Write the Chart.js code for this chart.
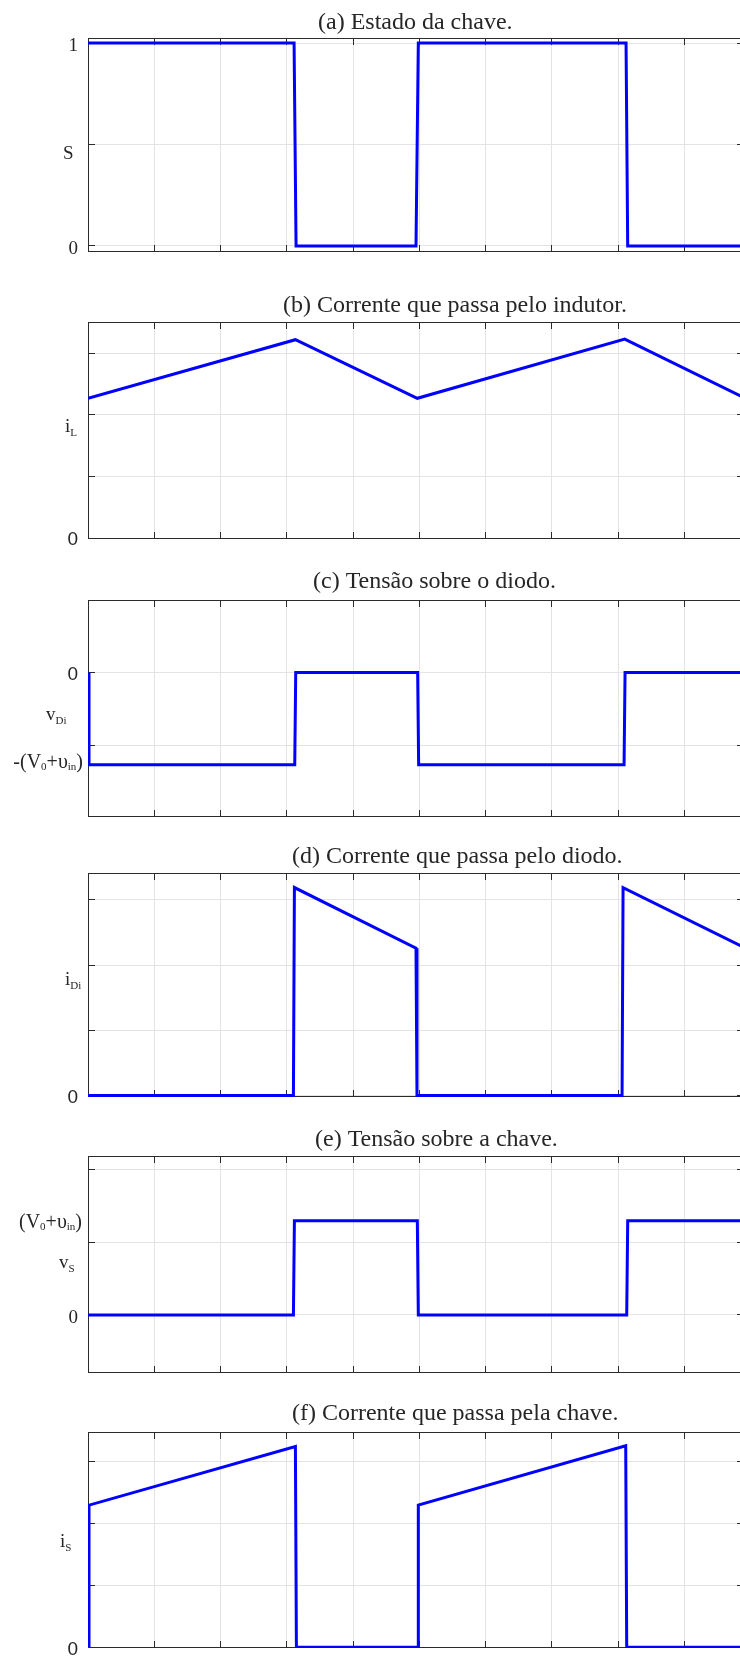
<!DOCTYPE html>
<html>
<head>
<meta charset="utf-8">
<script src="https://cdn.jsdelivr.net/npm/chart.js@4.4.1/dist/chart.umd.min.js"></script>
<style>
  html, body { margin: 0; padding: 0; background: #fff; overflow: hidden; }
  #figure { position: relative; width: 740px; height: 1657px; overflow: hidden; background: #fff; }
  #figure canvas { position: absolute; left: 0; }
</style>
</head>
<body>
<div id="figure"></div>
<script>
// x is measured in grid divisions (one per vertical grid line)
const xTicks = [0, 1, 2, 3, 4, 5, 6, 7, 8, 9];

// (a) switch state
const sX = [0, 3.11, 3.14, 4.95, 4.985, 8.12, 8.145, 9.9];
const sY = [1, 1, 0, 0, 1, 1, 0, 0];
const sTicks = [0, 0.5, 1];
const sTickLabels = ['0', '', '1'];

// (b) inductor current
const iLX = [0, 3.13, 4.97, 8.1, 9.9];
const iLY = [2.27, 3.22, 2.27, 3.23, 2.28];
const iLTicks = [0, 1, 2, 3];
const iLTickLabels = ['0', '', '', ''];

// (c) diode voltage
const vDiX = [0.015, 0.015, 3.12, 3.135, 4.975, 4.99, 8.09, 8.105, 9.9];
const vDiY = [0, -1.27, -1.27, 0, 0, -1.27, -1.27, 0, 0];
const vDiTicks = [-1, 0];
const vDiTickLabels = ['', '0'];

// (d) diode current
const iDiX = [0, 3.1, 3.115, 4.95, 4.965, 8.06, 8.075, 9.9];
const iDiY = [0, 0, 3.19, 2.26, 0, 0, 3.19, 2.27];
const iDiTicks = [0, 1, 2, 3];
const iDiTickLabels = ['0', '', '', ''];

// (e) switch voltage
const vSX = [0, 3.1, 3.115, 4.97, 4.985, 8.13, 8.145, 9.9];
const vSY = [0, 0, 1.3, 1.3, 0, 0, 1.3, 1.3];
const vSTicks = [0, 1, 2];
const vSTickLabels = ['0', '', ''];

// (f) switch current
const iSX = [0.015, 0.015, 3.13, 3.145, 4.985, 4.985, 8.115, 8.13, 9.9];
const iSY = [0, 2.3, 3.25, 0, 0, 2.3, 3.26, 0, 0];
const iSTicks = [0, 1, 2, 3];
const iSTickLabels = ['0', '', '', ''];

const SERIF = '"Liberation Serif", "Times New Roman", serif';
const SANS = '"Liberation Sans", Arial, sans-serif';
const TEXT_COLOR = '#262626';
const AXIS_COLOR = '#2b2b2b';
const GRID_COLOR = '#e3e3e3';
const LINE_COLOR = '#0000ff';
const PAD_TOP = 40, PAD_BOTTOM = 24;
const CANVAS_W = 746, PLOT_LEFT = 88, PLOT_RIGHT = 744, TICK_LEN = 7;

// page coordinates of each panel (plot box, title, labels)
const panels = [
    { title: '(a) Estado da chave.', titleX: 318, titleY: 28.5, top: 38, bottom: 252,
      yMin: -0.03, yMax: 1.025, xs: sX, ys: sY, ticks: sTicks, labels: sTickLabels, font: SERIF, offset: 3,
      yLabel: 'S', yLabelX: 63, yLabelY: 159 },
    { title: '(b) Corrente que passa pelo indutor.', titleX: 283, titleY: 311.5, top: 322, bottom: 539,
      yMin: -0.012, yMax: 3.507, xs: iLX, ys: iLY, ticks: iLTicks, labels: iLTickLabels, font: SANS, offset: 2,
      yLabel: 'i_{L}', yLabelX: 65, yLabelY: 432 },
    { title: '(c) Tensão sobre o diodo.', titleX: 313, titleY: 587.5, top: 600, bottom: 817,
      yMin: -1.99, yMax: 1.0, xs: vDiX, ys: vDiY, ticks: vDiTicks, labels: vDiTickLabels, font: SANS, offset: 2,
      yLabel: 'v_{Di}', yLabelX: 46, yLabelY: 720,
      valueLabel: '-(V_{0}+υ_{in})', valueLabelX: 83, valueLabelY: 768 },
    { title: '(d) Corrente que passa pelo diodo.', titleX: 292, titleY: 863, top: 873, bottom: 1097,
      yMin: -0.023, yMax: 3.413, xs: iDiX, ys: iDiY, ticks: iDiTicks, labels: iDiTickLabels, font: SANS, offset: 2,
      yLabel: 'i_{Di}', yLabelX: 65, yLabelY: 985 },
    { title: '(e) Tensão sobre a chave.', titleX: 315, titleY: 1145.5, top: 1156, bottom: 1373,
      yMin: -0.8, yMax: 2.193, xs: vSX, ys: vSY, ticks: vSTicks, labels: vSTickLabels, font: SERIF, offset: 3,
      yLabel: 'v_{S}', yLabelX: 59, yLabelY: 1268,
      valueLabel: '(V_{0}+υ_{in})', valueLabelX: 82, valueLabelY: 1228 },
    { title: '(f) Corrente que passa pela chave.', titleX: 292, titleY: 1420, top: 1432, bottom: 1648,
      yMin: -0.011, yMax: 3.484, xs: iSX, ys: iSY, ticks: iSTicks, labels: iSTickLabels, font: SANS, offset: 2,
      yLabel: 'i_{S}', yLabelX: 60, yLabelY: 1547 }
];

// text with _{...} subscripts
function drawRich(ctx, text, x, y, size, subSize, subDy, align) {
    const parts = [];
    text.split(/(_\{[^}]*\})/).forEach(p => {
        if (!p) return;
        if (p.startsWith('_{')) parts.push({ t: p.slice(2, -1), sub: true });
        else parts.push({ t: p, sub: false });
    });
    const fontFor = p => (p.sub ? subSize : size) + 'px ' + SERIF;
    let total = 0;
    parts.forEach(p => { ctx.font = fontFor(p); p.w = ctx.measureText(p.t).width; total += p.w; });
    let cx = align === 'right' ? x - total : x;
    ctx.textAlign = 'left';
    ctx.textBaseline = 'alphabetic';
    parts.forEach(p => {
        ctx.font = fontFor(p);
        ctx.fillText(p.t, cx, p.sub ? y + subDy : y);
        cx += p.w;
    });
}

function alignPx(v) { return Math.round(v - 0.5) + 0.5; }

function makeAxesPlugin(p) {
    const off = p.top - PAD_TOP;
    return {
        id: 'matlabAxes',
        beforeDatasetsDraw(chart) {
            const { ctx, chartArea: a, scales: { x, y } } = chart;
            ctx.save();
            ctx.strokeStyle = AXIS_COLOR;
            ctx.lineWidth = 1;
            ctx.beginPath();
            x.ticks.forEach(t => {
                const px = alignPx(x.getPixelForValue(t.value));
                ctx.moveTo(px, a.top); ctx.lineTo(px, a.top + TICK_LEN);
                ctx.moveTo(px, a.bottom); ctx.lineTo(px, a.bottom - TICK_LEN);
            });
            y.ticks.forEach(t => {
                const py = alignPx(y.getPixelForValue(t.value));
                ctx.moveTo(a.left, py); ctx.lineTo(a.left + TICK_LEN, py);
                ctx.moveTo(a.right, py); ctx.lineTo(a.right - TICK_LEN, py);
            });
            ctx.stroke();
            ctx.strokeRect(a.left + 0.5, a.top + 0.5, a.width - 1, a.height - 1);
            ctx.restore();
        },
        afterDraw(chart) {
            const ctx = chart.ctx;
            ctx.save();
            ctx.fillStyle = TEXT_COLOR;
            ctx.font = '24px ' + SERIF;
            ctx.textAlign = 'left';
            ctx.textBaseline = 'alphabetic';
            ctx.fillText(p.title, p.titleX, p.titleY - off);
            drawRich(ctx, p.yLabel, p.yLabelX, p.yLabelY - off, 19, 11, 4, 'left');
            if (p.valueLabel) {
                drawRich(ctx, p.valueLabel, p.valueLabelX, p.valueLabelY - off, 20, 11, 2, 'right');
            }
            ctx.restore();
        }
    };
}

const figure = document.getElementById('figure');

panels.forEach(p => {
    const canvas = document.createElement('canvas');
    const h = PAD_TOP + (p.bottom - p.top) + PAD_BOTTOM;
    canvas.width = CANVAS_W;
    canvas.height = h;
    canvas.style.width = CANVAS_W + 'px';
    canvas.style.height = h + 'px';
    canvas.style.top = (p.top - PAD_TOP) + 'px';
    figure.appendChild(canvas);

    new Chart(canvas.getContext('2d'), {
        type: 'line',
        data: {
            datasets: [{
                data: p.xs.map((x, i) => ({ x: x, y: p.ys[i] })),
                borderColor: LINE_COLOR,
                borderWidth: 3,
                pointRadius: 0,
                tension: 0,
                fill: false,
                borderJoinStyle: 'miter'
            }]
        },
        options: {
            responsive: false,
            animation: false,
            events: [],
            layout: { padding: { left: 0, right: CANVAS_W - PLOT_RIGHT, top: PAD_TOP, bottom: PAD_BOTTOM } },
            scales: {
                x: {
                    type: 'linear',
                    min: 0,
                    max: 9.9,
                    afterBuildTicks: s => { s.ticks = xTicks.map(v => ({ value: v })); },
                    afterFit: s => { s.height = 0; },
                    ticks: { display: false },
                    grid: { color: GRID_COLOR, drawTicks: false },
                    border: { display: false }
                },
                y: {
                    type: 'linear',
                    min: p.yMin,
                    max: p.yMax,
                    afterBuildTicks: s => { s.ticks = p.ticks.map(v => ({ value: v })); },
                    afterFit: s => { s.width = PLOT_LEFT; },
                    ticks: {
                        callback: (v, i) => p.labels[i],
                        font: { family: p.font, size: 19 },
                        color: TEXT_COLOR,
                        padding: 10,
                        labelOffset: p.offset
                    },
                    grid: { color: GRID_COLOR, drawTicks: false },
                    border: { display: false }
                }
            },
            plugins: {
                legend: { display: false },
                tooltip: { enabled: false }
            }
        },
        plugins: [makeAxesPlugin(p)]
    });
});
</script>
</body>
</html>
